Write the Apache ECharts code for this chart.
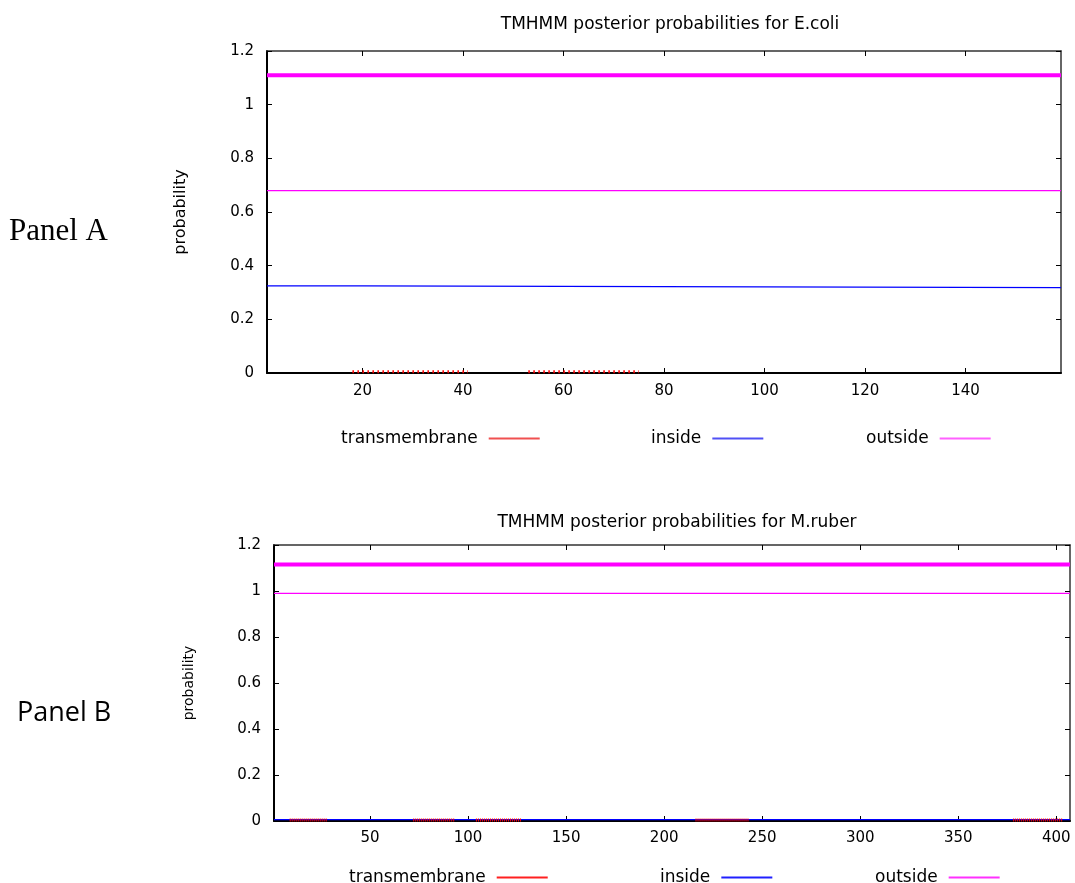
<!DOCTYPE html>
<html>
<head>
<meta charset="utf-8">
<script src="https://cdn.jsdelivr.net/npm/echarts@6/dist/echarts.min.js"></script>
<style>
html,body{margin:0;padding:0;background:#fff;}
#chart{width:1075px;height:883px;}
</style>
</head>
<body>
<div id="chart"></div>
<script>
// ---- Data ----
const titleA = 'TMHMM posterior probabilities for E.coli';
const titleB = 'TMHMM posterior probabilities for M.ruber';
const seriesNames = ['transmembrane', 'inside', 'outside'];
const lengthA = 159;
const lengthB = 407;
const xTicksA = [20, 40, 60, 80, 100, 120, 140];
const xTicksB = [50, 100, 150, 200, 250, 300, 350, 400];
const yTicks = [0, 0.2, 0.4, 0.6, 0.8, 1, 1.2];

// E.coli (Panel A)
const ecoliTM = [[18, 0.005], [41, 0.005], [47, null], [53, 0.005], [75, 0.005]];
const ecoliInside = [[1, 0.325], [20, 0.325], [20, 0.318], [159, 0.318]];
const ecoliOutside = [[1, 0.68], [159, 0.68]];
const ecoliTopology = [[1, 1.11], [159, 1.11]];

// M.ruber (Panel B)
const ruberTM = [[9, 0.004], [28, 0.004], [50, null], [72, 0.004], [93, 0.004], [98, null],
                 [104, 0.004], [127, 0.004], [170, null], [216, 0.004], [243, 0.004], [300, null],
                 [378, 0.004], [403, 0.004]];
const ruberInside = [[1, 0.006], [407, 0.006]];
const ruberOutside = [[1, 0.99], [407, 0.99]];
const ruberTopology = [[1, 1.115], [407, 1.115]];

// ---- Chart ----
const RED = '#ff0000', BLUE = '#0000ff', MAG = '#ff00ff';
const FONT = 'DejaVu Sans';
const chart = echarts.init(document.getElementById('chart'), null, {renderer: 'canvas'});

function xAxes(gridIndex, maxV, ticks, labelMargin) {
  return [
    {
      type: 'value', gridIndex: gridIndex, min: 1, max: maxV, position: 'bottom',
      axisLine: {show: true, onZero: false, lineStyle: {color: '#000', width: 2}},
      axisTick: {show: true, inside: true, length: 5, customValues: ticks, lineStyle: {color: '#000', width: 1}},
      axisLabel: {show: true, customValues: ticks, margin: labelMargin, color: '#000', fontFamily: FONT, fontSize: 15},
      splitLine: {show: false}
    },
    {
      type: 'value', gridIndex: gridIndex, min: 1, max: maxV, position: 'top',
      axisLine: {show: true, onZero: false, lineStyle: {color: '#333', width: 1.5}},
      axisTick: {show: true, inside: true, length: 5, customValues: ticks, lineStyle: {color: '#000', width: 1}},
      axisLabel: {show: false},
      splitLine: {show: false}
    }
  ];
}
function yAxes(gridIndex, nameSize) {
  return [
    {
      type: 'value', gridIndex: gridIndex, min: 0, max: 1.2, interval: 0.2, position: 'left',
      name: 'probability', nameLocation: 'middle', nameGap: 78, nameRotate: 90,
      nameTextStyle: {color: '#000', fontFamily: FONT, fontSize: nameSize},
      axisLine: {show: true, onZero: false, lineStyle: {color: '#000', width: 2}},
      axisTick: {show: true, inside: true, length: 5, lineStyle: {color: '#000', width: 1}},
      axisLabel: {show: true, margin: 13, color: '#000', fontFamily: FONT, fontSize: 15,
                  formatter: v => String(Math.round(v * 10) / 10)},
      splitLine: {show: false}
    },
    {
      type: 'value', gridIndex: gridIndex, min: 0, max: 1.2, interval: 0.2, position: 'right',
      axisLine: {show: true, onZero: false, lineStyle: {color: '#333', width: 1.5}},
      axisTick: {show: true, inside: true, length: 5, lineStyle: {color: '#000', width: 1}},
      axisLabel: {show: false},
      splitLine: {show: false}
    }
  ];
}

function panelSeries(xIdx, yIdx, tm, inside, outside, topo, dash) {
  return [
    {name: 'outside', type: 'line', xAxisIndex: xIdx, yAxisIndex: yIdx, data: outside,
     showSymbol: false, symbol: 'none', silent: true, z: 3,
     lineStyle: {color: MAG, width: 1.3}, itemStyle: {color: MAG}},
    {name: 'inside', type: 'line', xAxisIndex: xIdx, yAxisIndex: yIdx, data: inside,
     showSymbol: false, symbol: 'none', silent: true, z: 3,
     lineStyle: {color: BLUE, width: 1.3}, itemStyle: {color: BLUE}},
    {name: 'transmembrane', type: 'line', xAxisIndex: xIdx, yAxisIndex: yIdx, data: tm,
     showSymbol: false, symbol: 'none', silent: true, connectNulls: false, z: 4,
     lineStyle: {color: RED, width: 3, type: dash}, itemStyle: {color: RED}},
    {name: 'topology', type: 'line', xAxisIndex: xIdx, yAxisIndex: yIdx, data: topo,
     showSymbol: false, symbol: 'none', silent: true, z: 5,
     lineStyle: {color: MAG, width: 4}, itemStyle: {color: MAG}}
  ];
}

function legendItem(name, left, top, color) {
  return {
    show: true, left: left, top: top, orient: 'horizontal', align: 'right', padding: 0,
    icon: 'rect', itemWidth: 51, itemHeight: 2, selectedMode: false,
    textStyle: {color: '#000', fontFamily: FONT, fontSize: 17, padding: [0, 6, 0, 0]},
    data: [{name: name, itemStyle: {color: color}}]
  };
}

const xa = xAxes(0, lengthA, xTicksA, 11).concat(xAxes(1, lengthB, xTicksB, 10));
const ya = yAxes(0, 16).concat(yAxes(1, 14));

const option = {
  animation: false,
  backgroundColor: '#fff',
  title: [
    {text: titleA, left: 665, top: 11, textAlign: 'center',
     textStyle: {color: '#000', fontFamily: FONT, fontSize: 17, fontWeight: 'normal'}},
    {text: titleB, left: 672, top: 509, textAlign: 'center',
     textStyle: {color: '#000', fontFamily: FONT, fontSize: 17, fontWeight: 'normal'}}
  ],
  grid: [
    {left: 267, top: 51, width: 794, height: 322},
    {left: 274, top: 545, width: 796, height: 276}
  ],
  xAxis: xa,
  yAxis: ya,
  legend: [
    legendItem(seriesNames[0], 341, 430, '#f05050'),
    legendItem(seriesNames[1], 651, 430, '#5050f5'),
    legendItem(seriesNames[2], 866, 430, '#ff60ff'),
    legendItem(seriesNames[0], 349, 869, '#ff2020'),
    legendItem(seriesNames[1], 660, 869, '#2020ff'),
    legendItem(seriesNames[2], 875, 869, '#ff30ff')
  ],
  graphic: [
    {type: 'text', x: 9, y: 232, style: {text: 'Panel A', font: '31px "Liberation Serif"', fill: '#000', verticalAlign: 'middle'}},
    {type: 'text', x: 17, y: 713, style: {text: 'Panel B', font: '27px "Open Sans"', fill: '#000', verticalAlign: 'middle'}}
  ],
  series: panelSeries(0, 0, ecoliTM, ecoliInside, ecoliOutside, ecoliTopology, [1.5, 3.5])
    .concat(panelSeries(2, 2, ruberTM, ruberInside, ruberOutside, ruberTopology, [1, 1]))
};
chart.setOption(option);
</script>
</body>
</html>
